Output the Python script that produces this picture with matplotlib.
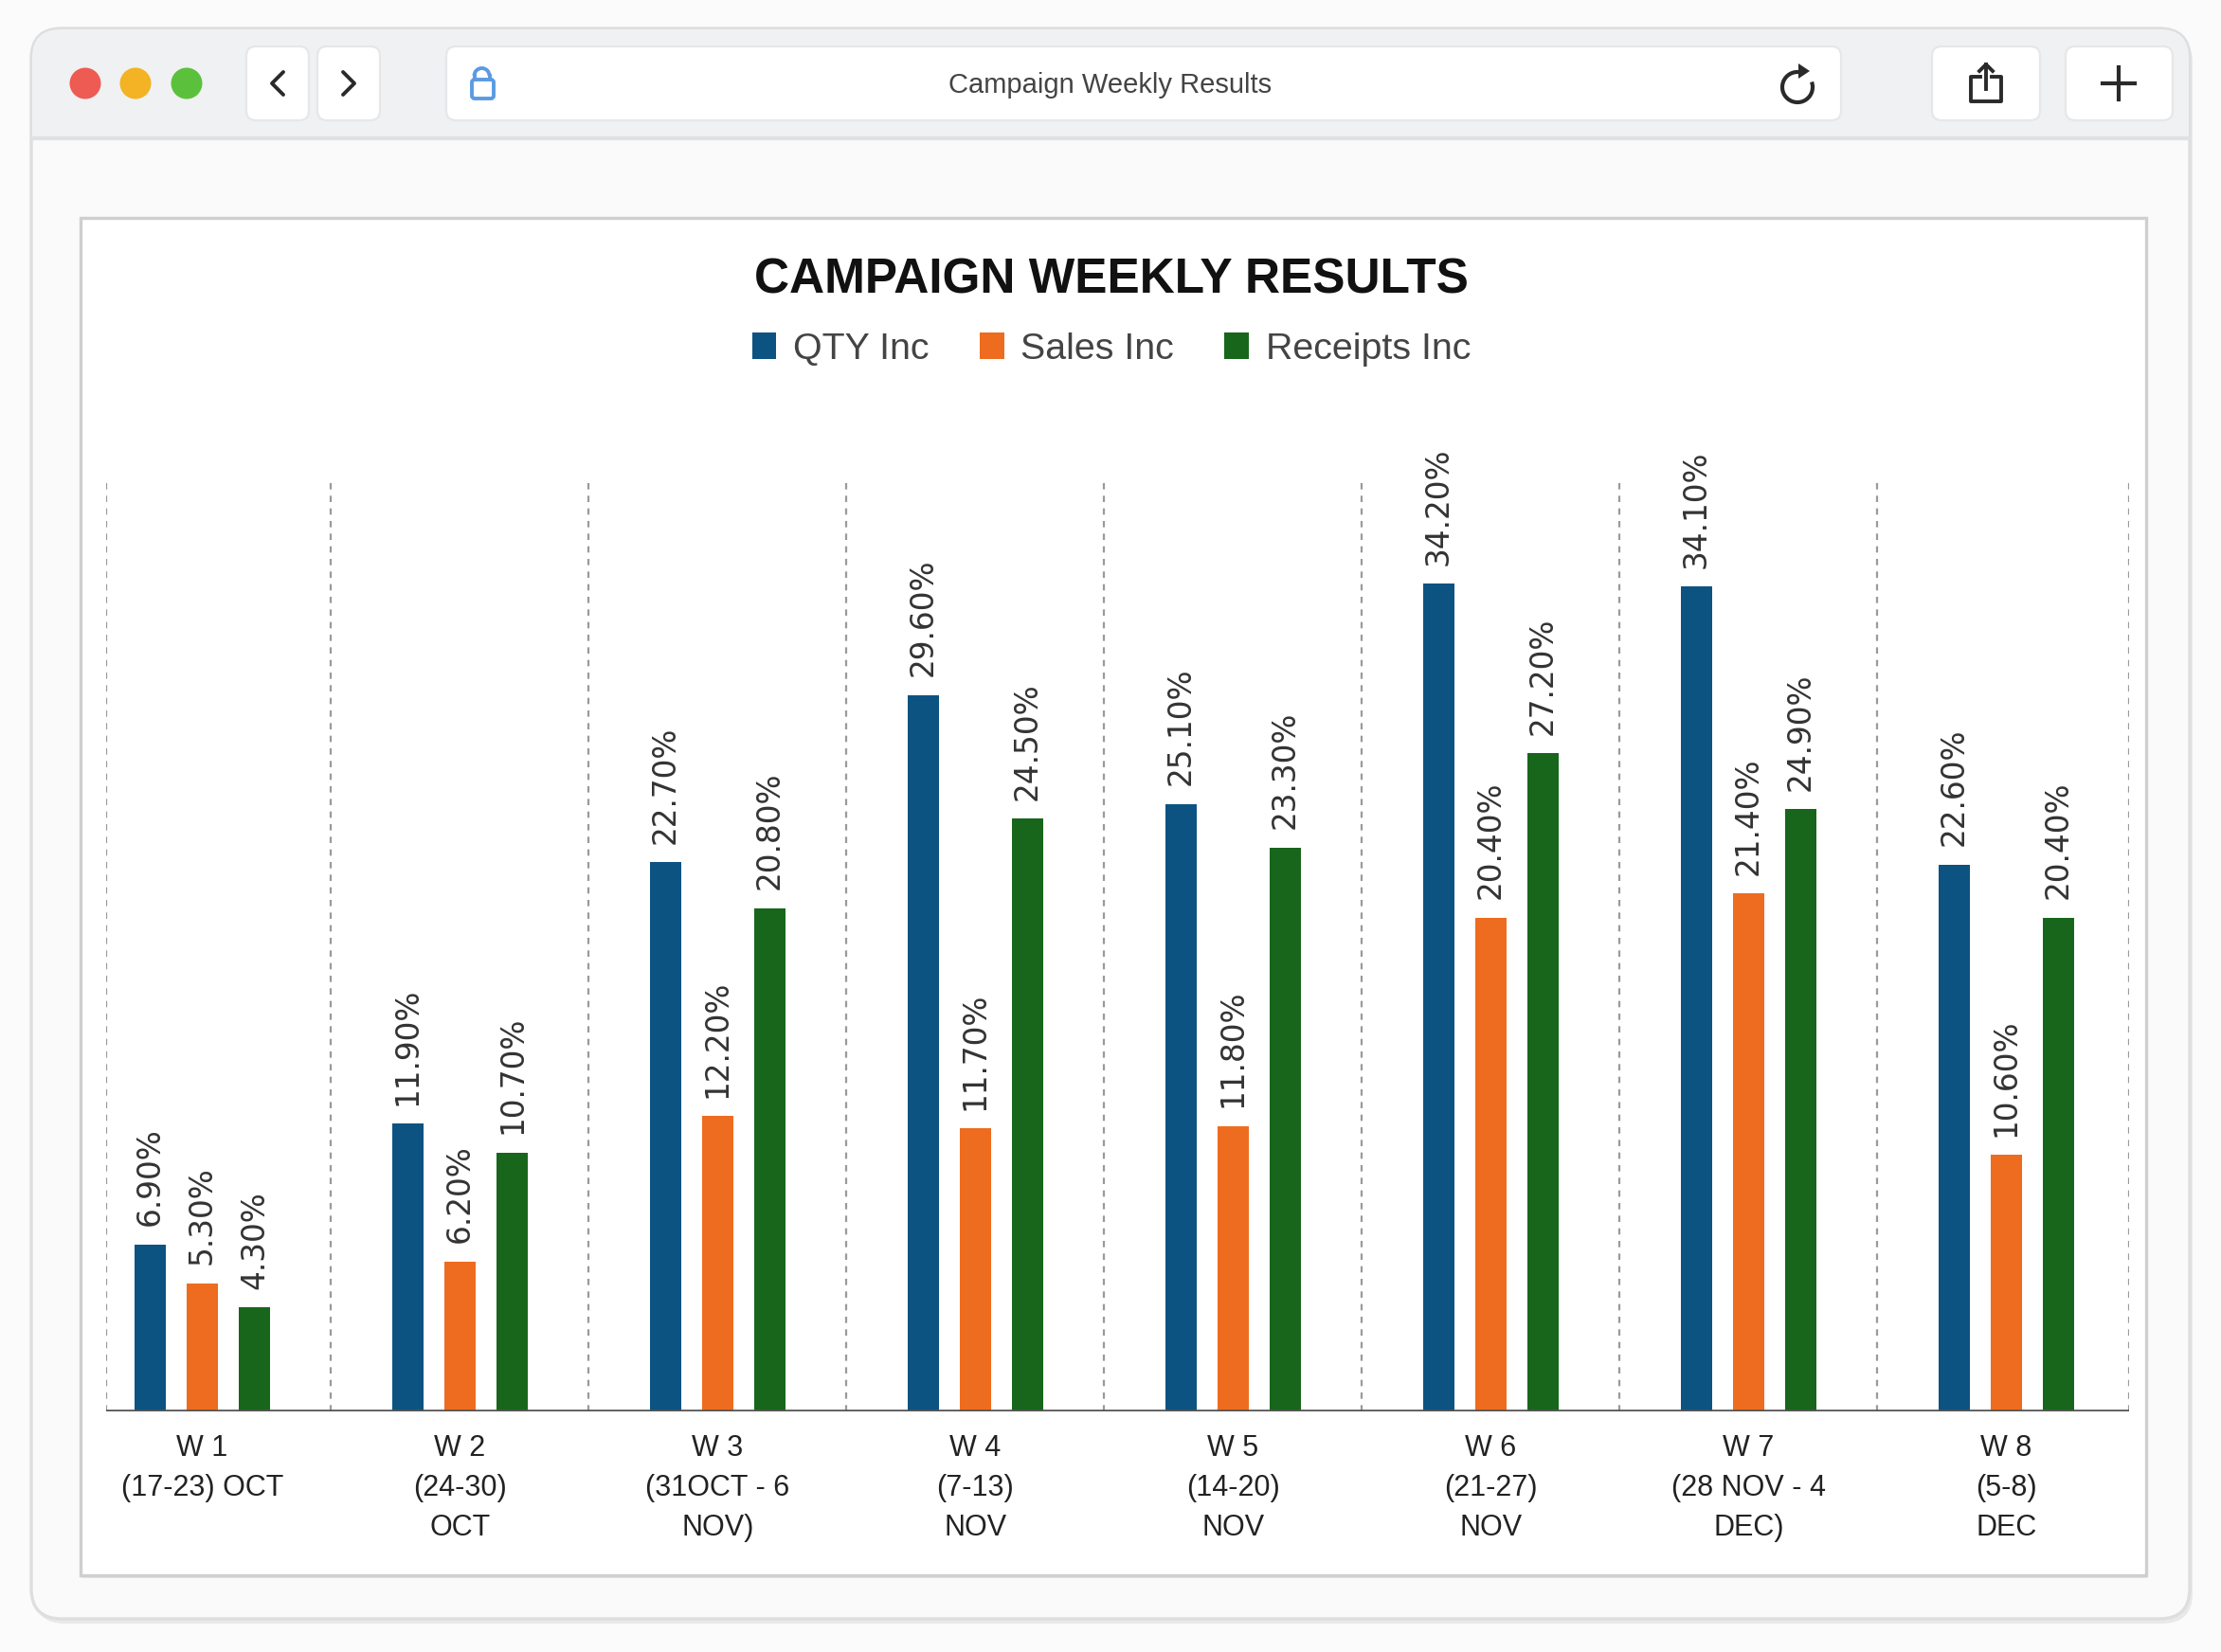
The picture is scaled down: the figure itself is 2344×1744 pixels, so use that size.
import numpy as np
import matplotlib
matplotlib.use("Agg")
import matplotlib.pyplot as plt
from matplotlib.patches import FancyBboxPatch, Circle, Arc, Polygon, Rectangle

# ------------------------------------------
# Data
# ------------------------------------------
weeks = ["W 1\n(17-23) OCT", "W 2\n(24-30)\nOCT", "W 3\n(31OCT - 6\nNOV)",
         "W 4\n(7-13)\nNOV", "W 5\n(14-20)\nNOV", "W 6\n(21-27)\nNOV",
         "W 7\n(28 NOV - 4\nDEC)", "W 8\n(5-8)\nDEC"]
series_names = ["QTY Inc", "Sales Inc", "Receipts Inc"]
qty_inc = [6.9, 11.9, 22.7, 29.6, 25.1, 34.2, 34.1, 22.6]
sales_inc = [5.3, 6.2, 12.2, 11.7, 11.8, 20.4, 21.4, 10.6]
receipts_inc = [4.3, 10.7, 20.8, 24.5, 23.3, 27.2, 24.9, 20.4]
colors = ["#0c5382", "#ee6c1f", "#18661b"]

W, H = 2344, 1744
DPI = 200
fig = plt.figure(figsize=(W / DPI, H / DPI), dpi=DPI)
fig.patch.set_facecolor("#fbfbfb")

# ------------------------------------------
# Browser chrome (pixel coords, y down)
# ------------------------------------------
bg = fig.add_axes([0, 0, 1, 1])
bg.set_xlim(0, W)
bg.set_ylim(H, 0)
bg.axis("off")

# window + shadow
bg.add_patch(FancyBboxPatch((36, 34), 2278, 1680, boxstyle="round,pad=0,rounding_size=32",
                            fc="#e9e9e9", ec="none", zorder=0))
bg.add_patch(FancyBboxPatch((33, 30), 2278, 1679, boxstyle="round,pad=0,rounding_size=32",
                            fc="#fafafa", ec="#dedede", lw=1.2, zorder=1))
# toolbar
bg.add_patch(FancyBboxPatch((34, 31), 2276, 115, boxstyle="round,pad=0,rounding_size=30",
                            fc="#f0f1f2", ec="none", zorder=2))
bg.add_patch(Rectangle((34, 100), 2276, 46, fc="#f0f1f2", ec="none", zorder=2))
bg.plot([34, 2310], [146, 146], color="#e0e1e3", lw=1.5, zorder=3)

# traffic lights
for cx, col in [(90, "#ee5b53"), (143, "#f3b325"), (197, "#5bc13c")]:
    bg.add_patch(Circle((cx, 88), 16.5, fc=col, ec="none", zorder=4))

# buttons
def button(x0, x1):
    bg.add_patch(FancyBboxPatch((x0, 49), x1 - x0, 78, boxstyle="round,pad=0,rounding_size=10",
                                fc="#ffffff", ec="#e6e7e9", lw=0.8, zorder=3))

button(260, 326)
button(335, 401)
button(471, 1943)
button(2039, 2153)
button(2180, 2293)

icon = "#2a2a2a"
# chevrons
bg.plot([299, 287, 299], [76, 88, 100], color=icon, lw=1.4, zorder=5, solid_capstyle="round")
bg.plot([362, 374, 362], [76, 88, 100], color=icon, lw=1.4, zorder=5, solid_capstyle="round")

# lock
lock = "#5a9be2"
bg.add_patch(FancyBboxPatch((498, 84), 23, 20, boxstyle="round,pad=0,rounding_size=3",
                            fc="none", ec=lock, lw=1.4, zorder=5))
bg.add_patch(Arc((508.5, 80), 16, 16, theta1=180, theta2=360, ec=lock, lw=1.4, zorder=5))
bg.plot([500.5, 500.5], [80, 84], color=lock, lw=1.4, zorder=5)
bg.plot([516.5, 516.5], [80, 84], color=lock, lw=1.4, zorder=5)

bg.text(1172, 90, "Campaign Weekly Results", ha="center", va="center", fontsize=10.5,
        family="Liberation Sans", color="#444444", zorder=5)

# reload icon
bg.add_patch(Arc((1897, 92), 32, 32, theta1=-20, theta2=278, ec=icon, lw=1.5, zorder=5))
bg.add_patch(Polygon([[1898, 67], [1910, 75], [1898, 83]], closed=True, fc=icon, ec="none", zorder=5))

# share icon
bg.plot([2090, 2080, 2080, 2112, 2112, 2102], [81, 81, 107, 107, 81, 81], color=icon, lw=1.4, zorder=5)
bg.plot([2096, 2096], [68, 94], color=icon, lw=1.4, zorder=5)
bg.plot([2089, 2096, 2103], [75, 68, 75], color=icon, lw=1.4, zorder=5)

# plus icon
bg.plot([2219, 2253], [88, 88], color=icon, lw=1.5, zorder=5)
bg.plot([2236, 2236], [71, 105], color=icon, lw=1.5, zorder=5)

# chart panel
bg.add_patch(Rectangle((86, 233), 2180, 1433, fc="#e4e4e4", ec="none", zorder=1))
bg.add_patch(Rectangle((85, 230), 2180, 1433, fc="#ffffff", ec="#cfcfcf", lw=1.2, zorder=2))

# ------------------------------------------
# Chart
# ------------------------------------------
ax = fig.add_axes([112 / W, 1 - 1490 / H, (2247 - 112) / W, (1490 - 504) / H])
ax.set_facecolor("none")
ax.set_zorder(5)

x = np.arange(len(weeks))
offset = 0.203
width = 0.121
all_series = [qty_inc, sales_inc, receipts_inc]
handles = []
for k, (vals, col, name) in enumerate(zip(all_series, colors, series_names)):
    xs = x + (k - 1) * offset
    b = ax.bar(xs, vals, width=width, color=col, label=name, zorder=3)
    handles.append(b)
    for xi, v in zip(xs, vals):
        ax.annotate(f"{v:.2f}%", xy=(xi, v), xytext=(0, 7), textcoords="offset points",
                    rotation=90, ha="center", va="bottom", fontsize=11.8,
                    family="DejaVu Sans", color="#333333", annotation_clip=False)

ax.set_xlim(-0.373, 7.477)
ax.set_ylim(0, 38.6)

# dashed separators
for sep in list(x[:-1] + 0.5) + [-0.373, 7.477]:
    ax.axvline(sep, color="#9a9a9a", lw=0.8, ls=(0, (3, 3)), zorder=1)
ax.axhline(0, color="#555555", lw=1.3, zorder=4)

for s in ax.spines.values():
    s.set_visible(False)
ax.set_yticks([])
ax.set_xticks(x)
ax.set_xticklabels(weeks, fontsize=11, family="Liberation Sans", color="#222222")
ax.tick_params(axis="x", length=0, pad=8.5)
for lbl in ax.get_xticklabels():
    lbl.set_linespacing(1.53)

# title & legend
fig.text(1173 / W, 1 - 296 / H, "CAMPAIGN WEEKLY RESULTS", ha="center", va="center",
         fontsize=18.5, fontweight="bold", family="Liberation Sans", color="#111111")
fig.legend(handles=handles, labels=series_names, loc="center", bbox_to_anchor=(1173 / W, 1 - 369 / H),
           ncol=3, frameon=False, prop={"family": "Liberation Sans", "size": 14.2},
           handlelength=0.65, handleheight=0.7, handletextpad=0.45, columnspacing=1.35,
           labelcolor="#444444")

fig.savefig("out.png", dpi=DPI, facecolor=fig.get_facecolor())
